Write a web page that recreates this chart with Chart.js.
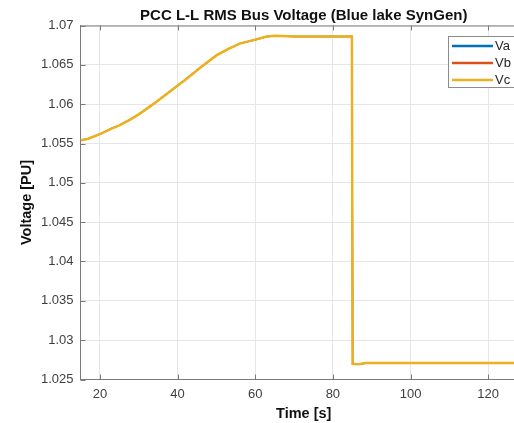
<!DOCTYPE html>
<html>
<head>
<meta charset="utf-8">
<script src="https://cdn.jsdelivr.net/npm/chart.js@4.4.1/dist/chart.umd.min.js"></script>
<style>
  html, body { margin: 0; padding: 0; background: #fff; overflow: hidden; }
  #wrap { width: 540px; height: 423px; }
</style>
</head>
<body>
<div id="wrap"><canvas id="voltChart" width="540" height="423"></canvas></div>
<script>
// 时间轴 (s)
const timeS = [15, 17, 20, 23, 25, 28, 30, 34, 38, 42, 46, 50, 53, 56, 60, 63, 65, 70, 75, 80, 84.9,
               85.1, 86, 87, 88.5, 95, 110, 130];
// 三相电压 (PU) - 图中三条线完全重合
const vcPu = [1.0554, 1.0556, 1.0562, 1.0569, 1.0573, 1.0581, 1.0587, 1.0601, 1.0616, 1.0631, 1.0647,
              1.0662, 1.0670, 1.0677, 1.0682, 1.0686, 1.0687, 1.0686, 1.0686, 1.0686, 1.0686,
              1.0270, 1.02695, 1.02698, 1.0271, 1.0271, 1.0271, 1.0271];
const vaPu = vcPu;
const vbPu = vcPu;

const xTicks = [20, 40, 60, 80, 100, 120];
const yTicks = [1.025, 1.03, 1.035, 1.04, 1.045, 1.05, 1.055, 1.06, 1.065, 1.07];
const yTickLabels = ['1.025', '1.03', '1.035', '1.04', '1.045', '1.05', '1.055', '1.06', '1.065', '1.07'];

const toPts = arr => timeS.map((t, i) => ({ x: t, y: arr[i] }));

// 内侧刻度线 + 顶部边框
const innerTicks = {
    id: 'innerTicks',
    afterDraw(chart) {
        const { ctx, chartArea: a, scales } = chart;
        ctx.save();
        ctx.strokeStyle = '#7a7a7a';
        ctx.lineWidth = 1;
        ctx.beginPath();
        ctx.moveTo(a.left, a.top + 0.5);
        ctx.lineTo(a.right, a.top + 0.5);
        xTicks.forEach(v => {
            const x = Math.round(scales.x.getPixelForValue(v)) + 0.5;
            ctx.moveTo(x, a.bottom); ctx.lineTo(x, a.bottom - 5);
            ctx.moveTo(x, a.top); ctx.lineTo(x, a.top + 5);
        });
        yTicks.forEach(v => {
            const y = Math.round(scales.y.getPixelForValue(v)) + 0.5;
            ctx.moveTo(a.left, y); ctx.lineTo(a.left + 5, y);
        });
        ctx.stroke();
        ctx.restore();
    }
};

// MATLAB 风格图例
const boxLegend = {
    id: 'boxLegend',
    afterDraw(chart) {
        const ctx = chart.ctx;
        const x0 = 448, y0 = 36, w = 80, h = 51;
        ctx.save();
        ctx.fillStyle = '#fff';
        ctx.fillRect(x0, y0, w, h);
        ctx.strokeStyle = '#8c8c8c';
        ctx.lineWidth = 1;
        ctx.strokeRect(x0 + 0.5, y0 + 0.5, w, h);
        ctx.font = '13px "Liberation Sans", Arial, sans-serif';
        ctx.textBaseline = 'middle';
        chart.data.datasets.forEach((ds, i) => {
            const y = y0 + 10 + i * 17;
            ctx.strokeStyle = ds.borderColor;
            ctx.lineWidth = 2.5;
            ctx.beginPath();
            ctx.moveTo(452, y); ctx.lineTo(493, y);
            ctx.stroke();
            ctx.fillStyle = '#262626';
            ctx.fillText(ds.label, 495, y + 0.5);
        });
        ctx.restore();
    }
};

const fontFam = '"Liberation Sans", Arial, sans-serif';

new Chart(document.getElementById('voltChart').getContext('2d'), {
    type: 'line',
    data: {
        datasets: [
            // order 越小越靠上，Vc 画在最上面
            { label: 'Va', data: toPts(vaPu), borderColor: '#0072BD', borderWidth: 1.5, order: 2 },
            { label: 'Vb', data: toPts(vbPu), borderColor: '#D95319', borderWidth: 1.5, order: 1 },
            { label: 'Vc', data: toPts(vcPu), borderColor: '#EDB120', borderWidth: 2.5, order: 0 }
        ]
    },
    options: {
        responsive: false,
        animation: false,
        layout: { padding: { left: 0, right: 13, top: 0, bottom: 0 } },
        elements: {
            point: { radius: 0 },
            line: { tension: 0, fill: false }
        },
        plugins: {
            legend: { display: false },
            tooltip: { enabled: false },
            title: {
                display: true,
                fullSize: false,
                text: 'PCC L-L RMS Bus Voltage (Blue lake SynGen)',
                color: '#111',
                font: { family: fontFam, size: 15, weight: 'bold' },
                padding: { top: 6.5, bottom: 1 }
            }
        },
        scales: {
            x: {
                type: 'linear',
                min: 15,
                max: 130,
                afterBuildTicks: s => { s.ticks = xTicks.map(v => ({ value: v })); },
                afterFit: s => { s.height = 43.5; },
                grid: { color: '#e6e6e6', drawTicks: false },
                border: { color: '#7a7a7a' },
                ticks: {
                    padding: 7,
                    color: '#404040',
                    font: { family: fontFam, size: 13 },
                    maxRotation: 0
                },
                title: {
                    display: true,
                    text: 'Time [s]',
                    color: '#111',
                    font: { family: fontFam, size: 14.5, weight: 'bold' },
                    padding: { top: 0, bottom: 0 }
                }
            },
            y: {
                min: 1.025,
                max: 1.07,
                afterBuildTicks: s => { s.ticks = yTicks.map(v => ({ value: v })); },
                afterFit: s => { s.width = 80.5; },
                grid: { color: '#e6e6e6', drawTicks: false },
                border: { color: '#7a7a7a' },
                ticks: {
                    padding: 7,
                    color: '#404040',
                    font: { family: fontFam, size: 13 },
                    callback: (v, i) => yTickLabels[i]
                },
                title: {
                    display: true,
                    text: 'Voltage [PU]',
                    color: '#111',
                    font: { family: fontFam, size: 14.5, weight: 'bold' },
                    padding: { top: 18, bottom: 0 }
                }
            }
        }
    },
    plugins: [innerTicks, boxLegend]
});
</script>
</body>
</html>
